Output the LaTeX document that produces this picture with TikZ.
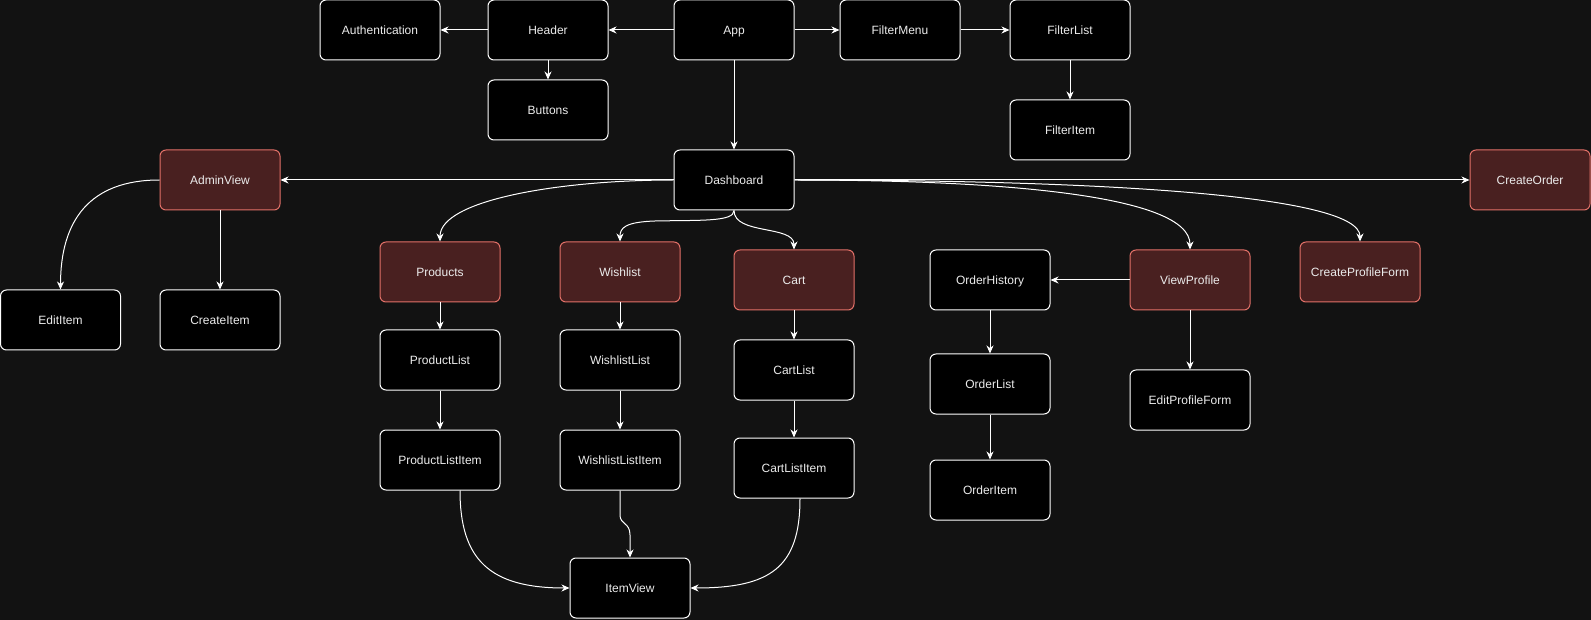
\documentclass[tikz,border=0pt]{standalone}
\usepackage{fontspec}
\setmainfont{Liberation Sans}
\usetikzlibrary{arrows.meta}

\definecolor{bgcol}{RGB}{18,18,18}
\definecolor{boxfill}{RGB}{0,0,0}
\definecolor{redfill}{RGB}{73,32,32}
\definecolor{redline}{RGB}{226,112,104}
\definecolor{txt}{RGB}{236,236,236}

\tikzset{
  comp/.style={draw=white, fill=boxfill, line width=1pt, rounded corners=6pt,
    minimum width=120pt, minimum height=60pt, inner sep=0pt,
    text height=8.6pt, text depth=0pt,
    text=txt, font=\fontsize{12pt}{14pt}\selectfont},
  view/.style={comp, draw=redline, fill=redfill},
  link/.style={draw=white, line width=1pt,
    -{Stealth[length=8pt,width=7pt,inset=2.5pt]}}
}

\begin{document}
\begin{tikzpicture}[x=1pt,y=-1pt]
  \fill[bgcol] (0,0) rectangle (1591,620);
  \useasboundingbox (0,0) rectangle (1591,620);

  % top row
  \node[comp] (auth)   at (380,30)  {Authentication};
  \node[comp] (header) at (548,30)  {Header};
  \node[comp] (app)    at (734,30)  {App};
  \node[comp] (fmenu)  at (900,30)  {FilterMenu};
  \node[comp] (flist)  at (1070,30) {FilterList};
  \node[comp] (btns)   at (548,110) {Buttons};
  \node[comp] (fitem)  at (1070,130) {FilterItem};

  % dashboard level
  \node[comp] (dash)   at (734,180)  {Dashboard};
  \node[view] (admin)  at (220,180)  {AdminView};
  \node[view] (corder) at (1530,180) {CreateOrder};
  \node[comp] (edit)   at (60.5,320) {EditItem};
  \node[comp] (create) at (220,320)  {CreateItem};

  % feature views
  \node[view] (prod)   at (440,272)  {Products};
  \node[view] (wish)   at (620,272)  {Wishlist};
  \node[view] (cart)   at (794,280)  {Cart};
  \node[comp] (ohist)  at (990,280)  {OrderHistory};
  \node[view] (vprof)  at (1190,280) {ViewProfile};
  \node[view] (cpform) at (1360,272) {CreateProfileForm};

  % lists
  \node[comp] (plist)  at (440,360)  {ProductList};
  \node[comp] (wlist)  at (620,360)  {WishlistList};
  \node[comp] (clist)  at (794,370)  {CartList};
  \node[comp] (olist)  at (990,384)  {OrderList};
  \node[comp] (epform) at (1190,400) {EditProfileForm};

  % list items
  \node[comp] (pli)    at (440,460)  {ProductListItem};
  \node[comp] (wli)    at (620,460)  {WishlistListItem};
  \node[comp] (cli)    at (794,468)  {CartListItem};
  \node[comp] (oitem)  at (990,490)  {OrderItem};
  \node[comp] (iview)  at (630,588)  {ItemView};

  % straight connectors
  \draw[link] (app.west) -- (header.east);
  \draw[link] (header.west) -- (auth.east);
  \draw[link] (header.south) -- (btns.north);
  \draw[link] (app.east) -- (fmenu.west);
  \draw[link] (fmenu.east) -- (flist.west);
  \draw[link] (flist.south) -- (fitem.north);
  \draw[link] (app.south) -- (dash.north);
  \draw[link] (dash.west) -- (admin.east);
  \draw[link] (dash.east) -- (corder.west);
  \draw[link] (admin.south) -- (create.north);
  \draw[link] (prod.south) -- (plist.north);
  \draw[link] (plist.south) -- (pli.north);
  \draw[link] (wish.south) -- (wlist.north);
  \draw[link] (wlist.south) -- (wli.north);
  \draw[link] (cart.south) -- (clist.north);
  \draw[link] (clist.south) -- (cli.north);
  \draw[link] (vprof.west) -- (ohist.east);
  \draw[link] (vprof.south) -- (epform.north);
  \draw[link] (ohist.south) -- (olist.north);
  \draw[link] (olist.south) -- (oitem.north);

  % curved connectors
  \draw[link] (admin.west) .. controls (90,180) and (60.5,220) .. (edit.north);
  \draw[link] (dash.west) .. controls (560,180) and (440,200) .. (prod.north);
  \draw[link] (dash.south) .. controls (734,222) and (700,220) .. (655,221)
                          .. controls (625,222) and (620,228) .. (wish.north);
  \draw[link] (dash.south) .. controls (734,235) and (794,225) .. (cart.north);
  \draw[link] (dash.east) .. controls (1000,180) and (1190,195) .. (vprof.north);
  \draw[link] (dash.east) .. controls (1100,180) and (1360,195) .. (cpform.north);
  \draw[link] (pli.south) ++(20,0) coordinate (pliout)
    (pliout) .. controls (460,560) and (490,588) .. (iview.west);
  \draw[link] (wli.south) -- (620,515) .. controls (620,525) and (630,522) .. (630,535)
    -- (iview.north);
  \draw[link] (cli.south) ++(6,0) coordinate (cliout)
    (cliout) .. controls (800,568) and (770,588) .. (iview.east);
\end{tikzpicture}
\end{document}
